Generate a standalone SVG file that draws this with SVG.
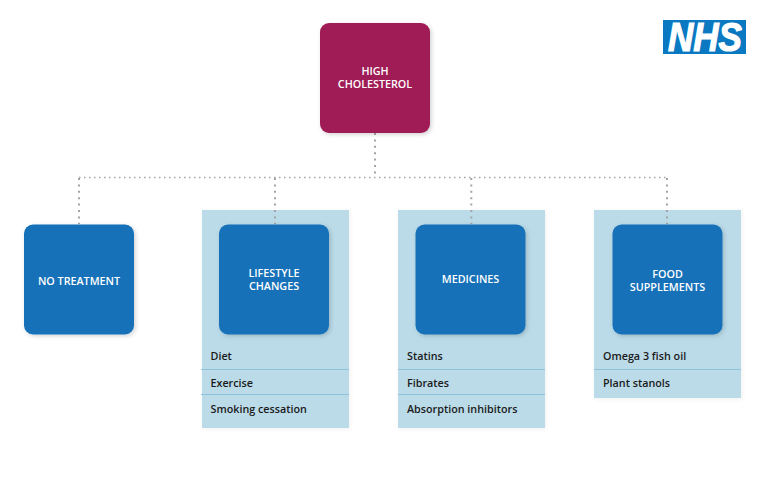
<svg xmlns="http://www.w3.org/2000/svg" width="765" height="500" viewBox="0 0 765 500">
<defs>
<style>
.t{font-family:"Open Sans","Noto Sans",sans-serif;font-weight:600;font-size:10.75px;}
.n{fill:#ffffff;text-anchor:middle;}
.i{fill:#1a1a1a;}
.p{fill:#bbdbe9;filter:url(#g);}
.b{fill:#1571b8;filter:url(#s);}
.d{stroke:#8fc3dc;stroke-width:1;fill:none;}
.c{stroke:#a4a4a6;stroke-width:2;stroke-dasharray:2 4.4;fill:none;}
.h{stroke:#a4a4a6;stroke-width:1.300;stroke-dasharray:1.500 3.500;fill:none;}
</style>
<filter id="s" x="-10%" y="-10%" width="125%" height="125%"><feDropShadow dx="1.500" dy="1.500" stdDev="2" flood-color="#000" flood-opacity="0.18"/></filter>
<filter id="g" x="-5%" y="-5%" width="110%" height="110%"><feDropShadow dx="1" dy="1" stdDev="1.500" flood-color="#000" flood-opacity="0.06"/></filter>
</defs>
<rect width="765" height="500" fill="#fff"/>
<g id="panels">
<rect class="p" x="202" y="210" width="147" height="218"/>
<rect class="p" x="398" y="210" width="147" height="218"/>
<rect class="p" x="594" y="210" width="147" height="188"/>
<path class="d" d="M201 369.500H349M201 394.500H349M398 369.500H545M398 394.500H545M594 369.500H741"/>
</g>
<g id="connectors">
<path class="h" d="M79 177.500H667"/>
<path class="c" d="M375 133V177M79 178V224M275 178V224M471.300 178V224M667 178V224"/>
</g>
<g id="node-high-cholesterol">
<rect x="320" y="23" width="110" height="110" rx="9" fill="#a01d56" filter="url(#s)"/>
<text class="t n" x="375" y="75">HIGH</text>
<text class="t n" x="375" y="88">CHOLESTEROL</text>
</g>
<g id="node-no-treatment">
<rect class="b" x="24" y="224.500" width="110" height="110" rx="9"/>
<text class="t n" x="79" y="285">NO TREATMENT</text>
</g>
<g id="node-lifestyle">
<rect class="b" x="219" y="224.500" width="110" height="110" rx="9"/>
<text class="t n" x="274" y="277">LIFESTYLE</text>
<text class="t n" x="274" y="290">CHANGES</text>
</g>
<g id="node-medicines">
<rect class="b" x="415.500" y="224.500" width="110" height="110" rx="9"/>
<text class="t n" x="470.500" y="283">MEDICINES</text>
</g>
<g id="node-food">
<rect class="b" x="612.500" y="224.500" width="110" height="110" rx="9"/>
<text class="t n" x="667.500" y="278">FOOD</text>
<text class="t n" x="667.500" y="291">SUPPLEMENTS</text>
</g>
<g id="items">
<text class="t i" x="210.500" y="360">Diet</text>
<text class="t i" x="210.500" y="387">Exercise</text>
<text class="t i" x="210.500" y="413">Smoking cessation</text>
<text class="t i" x="407" y="360">Statins</text>
<text class="t i" x="407" y="387">Fibrates</text>
<text class="t i" x="407" y="413">Absorption inhibitors</text>
<text class="t i" x="603" y="360">Omega 3 fish oil</text>
<text class="t i" x="603" y="387">Plant stanols</text>
</g>
<g id="nhs-logo">
<rect x="663" y="20" width="83" height="34" fill="#0b78c2"/>
<text x="668" y="50.500" font-family="'Liberation Sans',Arial,sans-serif" font-weight="700" font-style="italic" font-size="40" fill="#fff" stroke="#fff" stroke-width="1.200" textLength="74" lengthAdjust="spacingAndGlyphs">NHS</text>
</g>
</svg>
